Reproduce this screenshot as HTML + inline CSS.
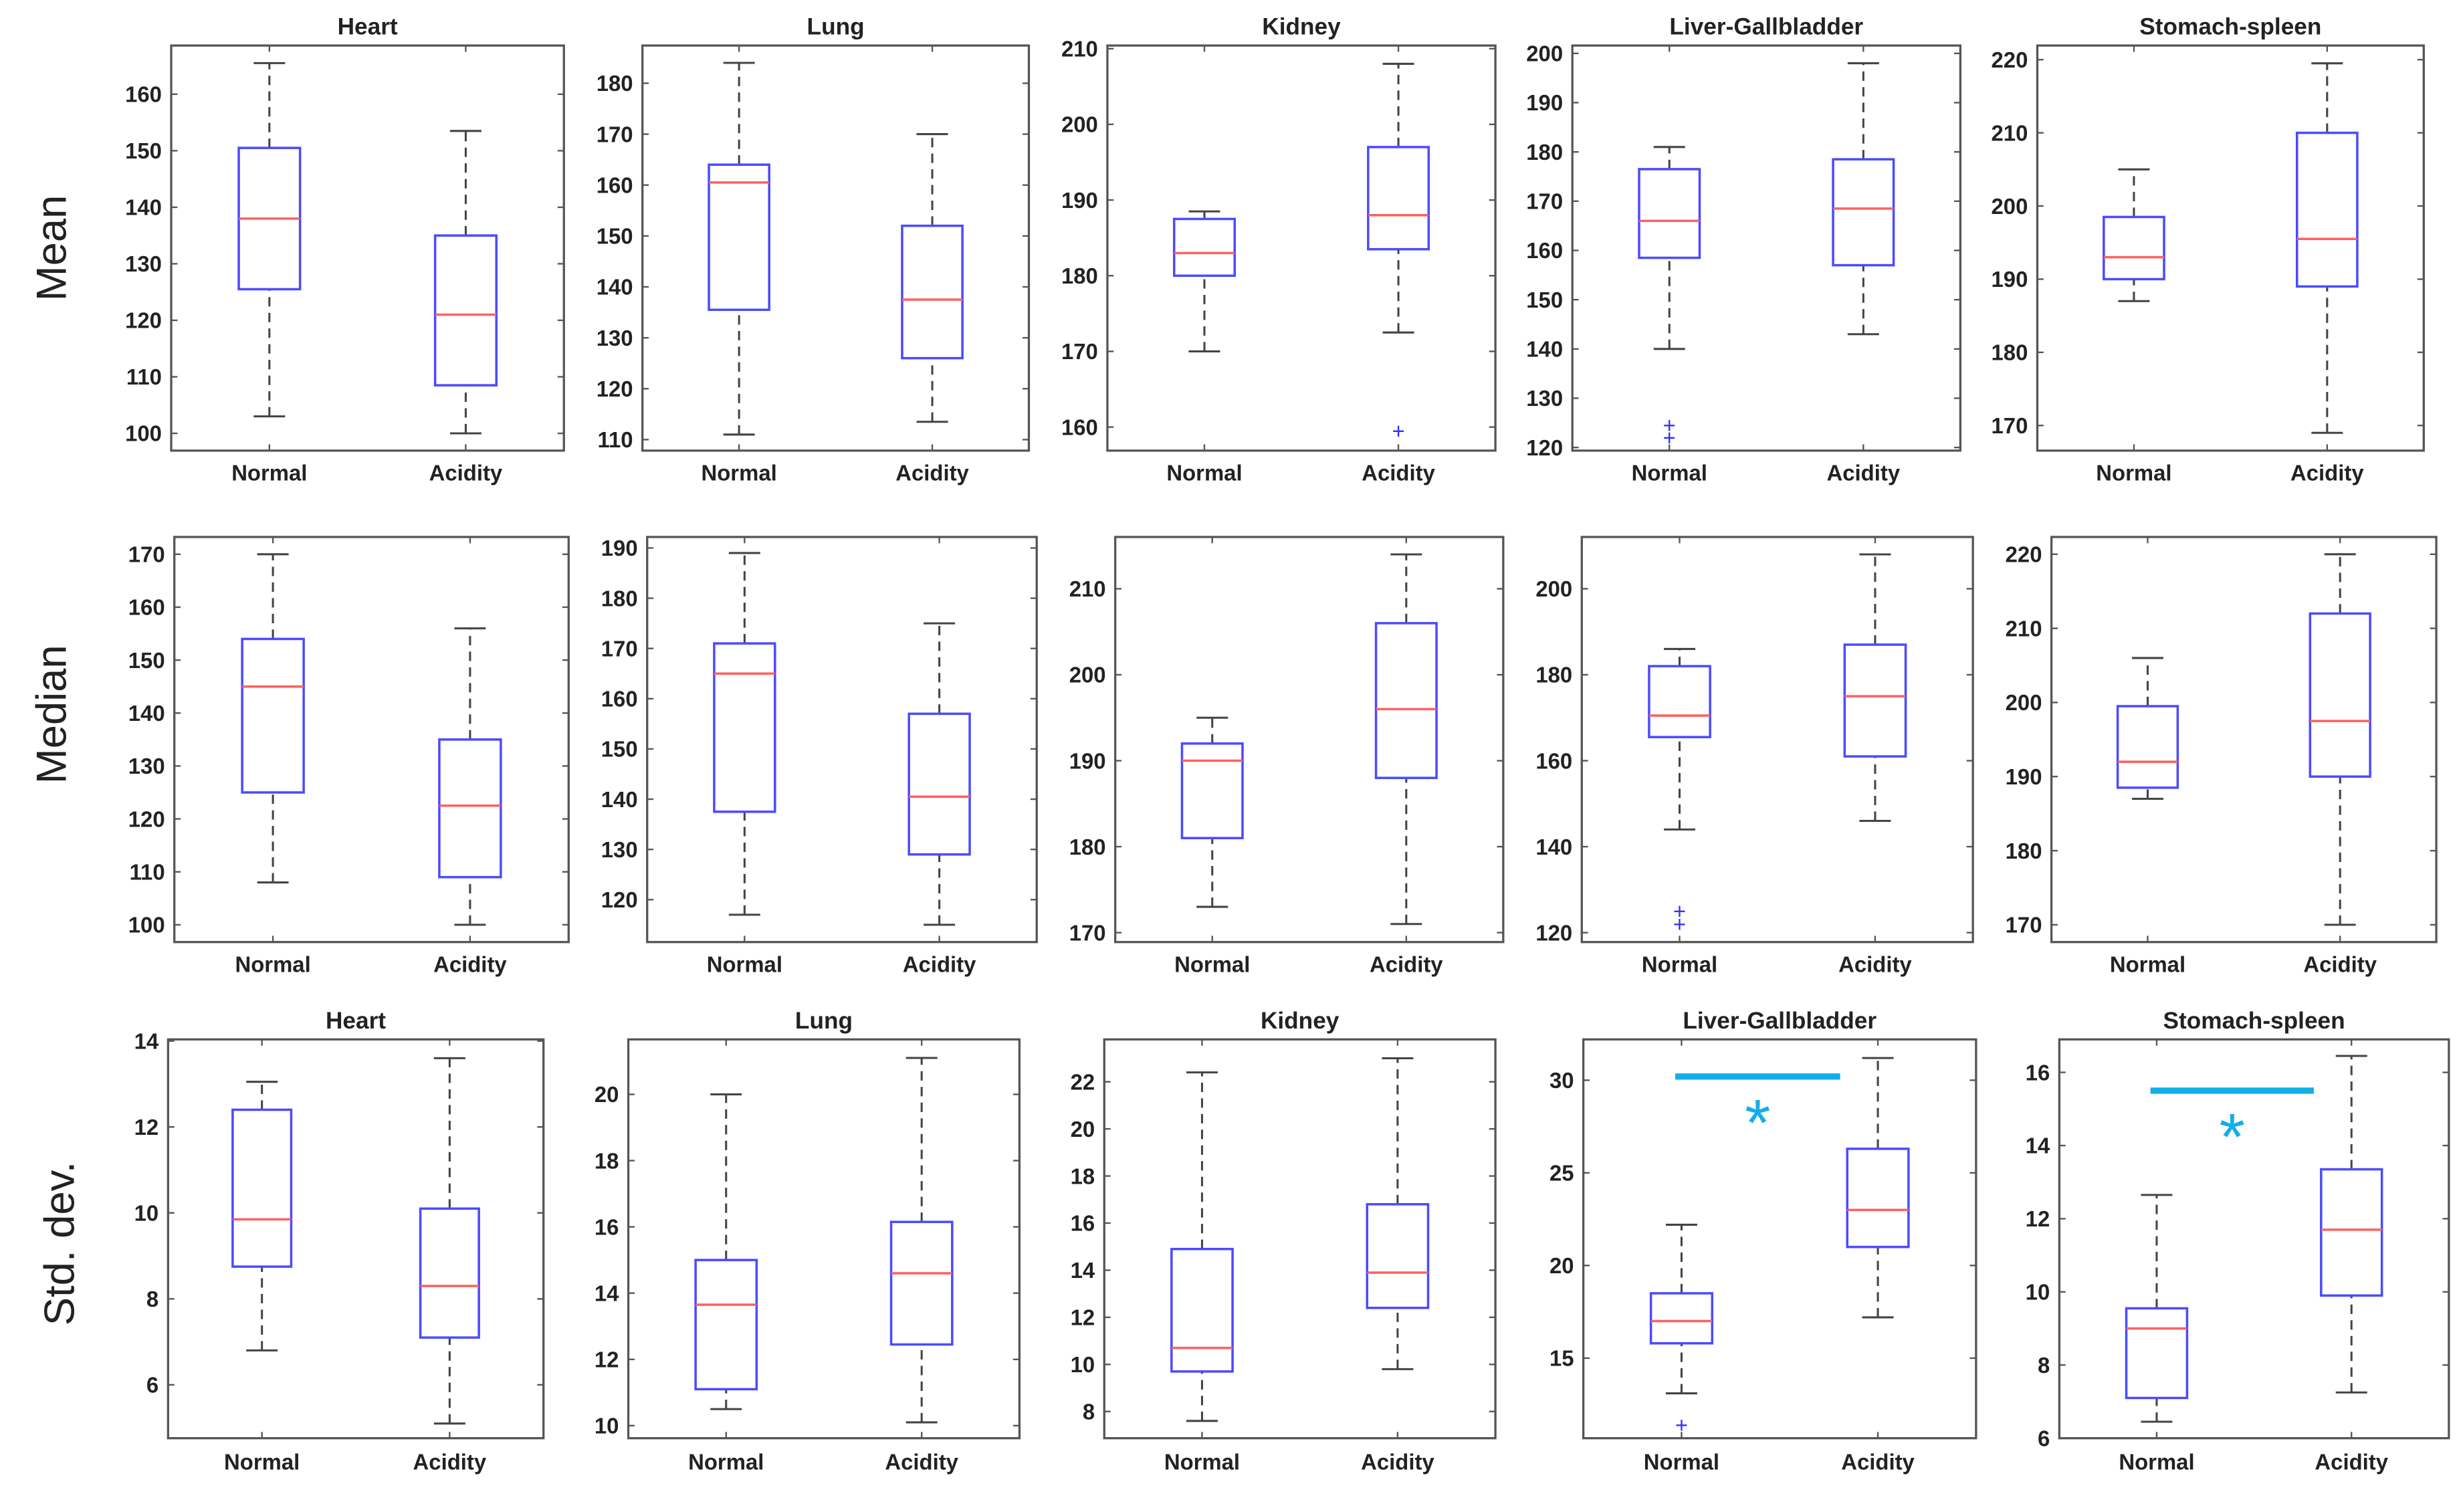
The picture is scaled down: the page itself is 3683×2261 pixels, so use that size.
<!DOCTYPE html>
<html><head><meta charset="utf-8"><style>
html,body{margin:0;padding:0;background:#fff;}
svg{display:block;}
text{font-family:"Liberation Sans",Arial,sans-serif;fill:#222;}
</style></head><body>
<svg id="fig" width="3683" height="2261" viewBox="0 0 1568 963" preserveAspectRatio="none" xmlns="http://www.w3.org/2000/svg">
<rect width="1568" height="963" fill="#fff"/>
<text x="33" y="158" font-size="27" text-anchor="middle" transform="rotate(-90 33 158)" dy="9">Mean</text>
<text x="33" y="455" font-size="27" text-anchor="middle" transform="rotate(-90 33 455)" dy="9">Median</text>
<text x="38" y="792" font-size="27" text-anchor="middle" transform="rotate(-90 38 792)" dy="9">Std. dev.</text>
</svg>
<script>
// ---- data ----
const categories = ["Normal", "Acidity"];
const organs = ["Heart", "Lung", "Kidney", "Liver-Gallbladder", "Stomach-spleen"];
// each stat: [whiskerLow, q1, median, q3, whiskerHigh] for Normal and Acidity
const meanNormal = [[103,125.5,138,150.5,165.5],[111,135.5,160.5,164,184],[170,180,183,187.5,188.5],[140,158.5,166,176.5,181],[187,190,193,198.5,205]];
const meanAcidity = [[100,108.5,121,135,153.5],[113.5,126,137.5,152,170],[172.5,183.5,188,197,208],[143,157,168.5,178.5,198],[169,189,195.5,210,219.5]];
const meanOutliersNormal = [[],[],[],[122,124.5],[]];
const meanOutliersAcidity = [[],[],[159.5],[],[]];
const medianNormal = [[108,125,145,154,170],[117,137.5,165,171,189],[173,181,190,192,195],[144,165.5,170.5,182,186],[187,188.5,192,199.5,206]];
const medianAcidity = [[100,109,122.5,135,156],[115,129,140.5,157,175],[171,188,196,206,214],[146,161,175,187,208],[170,190,197.5,212,220]];
const medianOutliersNormal = [[],[],[],[122,125],[]];
const medianOutliersAcidity = [[],[],[],[],[]];
const stdNormal = [[6.8,8.75,9.85,12.4,13.05],[10.5,11.1,13.65,15,20],[7.6,9.7,10.7,14.9,22.4],[13.1,15.8,17,18.5,22.2],[6.45,7.1,9,9.55,12.65]];
const stdAcidity = [[5.1,7.1,8.3,10.1,13.6],[10.1,12.45,14.6,16.15,21.1],[9.8,12.4,13.9,16.8,23],[17.2,21,23,26.3,31.2],[7.25,9.9,11.7,13.35,16.45]];
const stdOutliersNormal = [[],[],[],[11.4],[]];
const stdOutliersAcidity = [[],[],[],[],[]];
const meanTicks = [[100,110,120,130,140,150,160],[110,120,130,140,150,160,170,180],[160,170,180,190,200,210],[120,130,140,150,160,170,180,190,200],[170,180,190,200,210,220]];
const medianTicks = [[100,110,120,130,140,150,160,170],[120,130,140,150,160,170,180,190],[170,180,190,200,210],[120,140,160,180,200],[170,180,190,200,210,220]];
const stdTicks = [[6,8,10,12,14],[10,12,14,16,18,20],[8,10,12,14,16,18,20,22],[15,20,25,30],[6,8,10,12,14,16]];
const sigBarValues = [null,null,null,30.2,15.5];

// ---- layout (thumbnail coordinates) ----
const rows = [
 {key:"mean", titles:true, titleY:17, labelY:301, N:meanNormal, A:meanAcidity, oN:meanOutliersNormal, oA:meanOutliersAcidity, ticks:meanTicks,
  axes:[[109,29,359,287,[100,276],[160,60]],[409,29,655,287,[110,280],[180,53]],[705,29,952,287,[160,272],[210,31]],[1001,29,1248,287,[120,285],[200,34]],[1297,29,1543,287,[170,271],[220,38]]]},
 {key:"median", titles:false, labelY:614, N:medianNormal, A:medianAcidity, oN:medianOutliersNormal, oA:medianOutliersAcidity, ticks:medianTicks,
  axes:[[111,342,362,600,[100,589],[170,353]],[412,342,660,600,[120,573],[190,349]],[710,342,957,600,[170,594],[210,375]],[1007,342,1256,600,[120,594],[200,375]],[1306,342,1551,600,[170,589],[220,353]]]},
 {key:"std", titles:true, titleY:650, labelY:931, N:stdNormal, A:stdAcidity, oN:stdOutliersNormal, oA:stdOutliersAcidity, ticks:stdTicks, sig:true,
  axes:[[107,662,346,916,[6,882],[14,663]],[400,662,649,916,[10,908],[20,697]],[703,662,952,916,[8,899],[22,689]],[1008,662,1258,916,[15,865],[30,688]],[1311,662,1559,916,[6,916],[16,683]]]}
];
const svg = document.getElementById('fig');
const NS = "http://www.w3.org/2000/svg";
function mk(tag, attrs, parent){ const e=document.createElementNS(NS,tag); for(const k in attrs) e.setAttribute(k,attrs[k]); (parent||svg).appendChild(e); return e; }

rows.forEach(row=>{
 row.axes.forEach((ax,i)=>{
  const [x0,y0,x1,y1,t0,t1]=ax;
  const yS = v => t0[1] + (v - t0[0])*(t1[1]-t0[1])/(t1[0]-t0[0]);
  const xS = c => x0 + (x1-x0)*(0.25 + 0.5*c);
  const hw = (x1-x0)*0.078;
  const g = mk('g',{});
  
  
  const frame = mk('rect',{x:x0,y:y0,width:x1-x0,height:y1-y0,fill:'none',stroke:'#555','stroke-width':1.4},g);
  
  
  if(row.titles){
   const t = mk('text',{x:(x0+x1)/2,y:row.titleY+5,'font-size':15,'font-weight':'bold','text-anchor':'middle'},g);
   t.textContent = organs[i];
   
   
  }
  row.ticks[i].forEach(v=>{
   const y=yS(v);
   mk('line',{x1:x0,x2:x0+4,y1:y,y2:y,stroke:'#555','stroke-width':1},g);
   mk('line',{x1:x1-4,x2:x1,y1:y,y2:y,stroke:'#555','stroke-width':1},g);
   const tl = mk('text',{x:x0-6,y:y+5,'font-size':14,'font-weight':'bold','text-anchor':'end'},g);
   tl.textContent = v;
   
   
  });
  categories.forEach((c,ci)=>{
   const cx=xS(ci);
   mk('line',{x1:cx,x2:cx,y1:y0,y2:y0+4,stroke:'#555'},g);
   mk('line',{x1:cx,x2:cx,y1:y1-4,y2:y1,stroke:'#555'},g);
   const xl = mk('text',{x:cx,y:row.labelY+5,'font-size':14,'font-weight':'bold','text-anchor':'middle'},g);
   xl.textContent = c;
   
   
   const d = (ci===0?row.N:row.A)[i];
   const bg = mk('g',{},g);
   
   
   mk('line',{x1:cx,x2:cx,y1:yS(d[0]),y2:yS(d[1]),stroke:'#444','stroke-width':1.3,'stroke-dasharray':'6,4'},bg);
   mk('line',{x1:cx,x2:cx,y1:yS(d[3]),y2:yS(d[4]),stroke:'#444','stroke-width':1.3,'stroke-dasharray':'6,4'},bg);
   mk('line',{x1:cx-10,x2:cx+10,y1:yS(d[0]),y2:yS(d[0]),stroke:'#444','stroke-width':1.3},bg);
   mk('line',{x1:cx-10,x2:cx+10,y1:yS(d[4]),y2:yS(d[4]),stroke:'#444','stroke-width':1.3},bg);
   mk('rect',{x:cx-hw,y:yS(d[3]),width:2*hw,height:yS(d[1])-yS(d[3]),fill:'#fff',stroke:'#4b4bff','stroke-width':1.5},bg);
   mk('line',{x1:cx-hw,x2:cx+hw,y1:yS(d[2]),y2:yS(d[2]),stroke:'#ff6060','stroke-width':1.5},bg);
   (ci===0?row.oN:row.oA)[i].forEach(o=>{
    const p = mk('text',{x:cx,y:yS(o)+5,'font-size':14,'text-anchor':'middle'},bg);
    p.style.fill='#3030ff';
    p.textContent='+';
    
    
   });
  });
  if(row.sig && sigBarValues[i]!==null){
   const y=yS(sigBarValues[i]);
   const bx0 = xS(0)-4, bx1 = xS(1)-24;
   const b = mk('line',{x1:bx0,x2:bx1,y1:y,y2:y,stroke:'#12aee8','stroke-width':4},g);
   
   
   const s = mk('text',{x:(bx0+bx1)/2,y:y+44,'font-size':42,'text-anchor':'middle'},g);
   s.style.fill='#12aee8';
   s.textContent='*';
   
   
  }
 });
});
</script>
</body></html>
